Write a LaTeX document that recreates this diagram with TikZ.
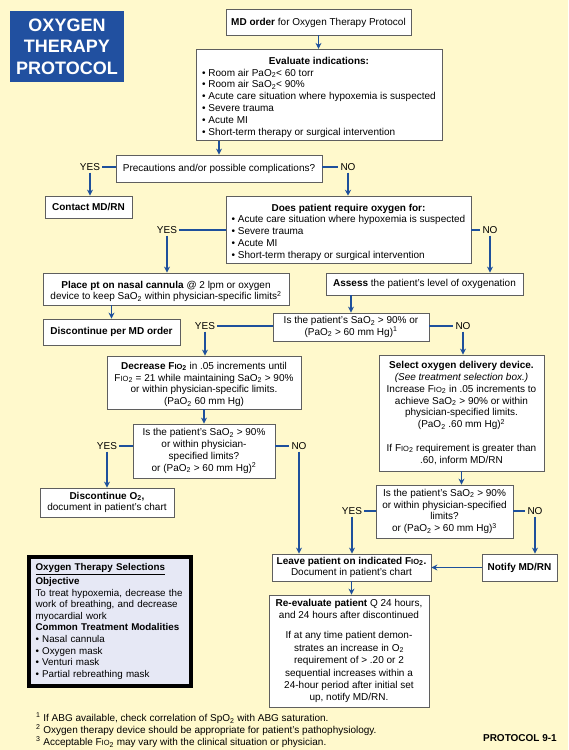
\documentclass[tikz,border=0pt]{standalone}
\usepackage{fontspec}
\setmainfont{Liberation Sans}
\usetikzlibrary{arrows.meta}
\definecolor{bg}{RGB}{255,249,204}
\definecolor{arrowblue}{RGB}{30,80,156}
\definecolor{boxgray}{RGB}{95,95,95}
\definecolor{titleblue}{RGB}{33,80,160}
\definecolor{selfill}{RGB}{230,232,245}
\newcommand\stwo{\textsubscript{2}}
\newcommand\fio{F{\fontsize{7.5}{8}\selectfont IO}\stwo}
\newcommand\bul{\textbullet\ }
\newcommand\topstrut[1]{\rule{0pt}{#1}}
\begin{document}
\begin{tikzpicture}[x=1pt,y=-1pt,
  box/.style={draw=boxgray, fill=white, line width=0.8pt, inner sep=2pt, align=center, font=\fontsize{10}{11.8}\selectfont},
  lbl/.style={inner sep=2pt, font=\fontsize{10}{11.8}\selectfont},
  arr/.style={draw=arrowblue, line width=1.1pt, -{Stealth[length=6pt,width=6pt]}},
  ln/.style={draw=arrowblue, line width=1.1pt}]
\fill[bg] (0,0) rectangle (568,750);
\useasboundingbox (0,0) rectangle (568,750);

\node[fill=titleblue, minimum width=114pt, minimum height=71pt, align=center, text=white, font=\fontsize{18}{21.5}\selectfont\bfseries] (title) at (67,46.5) {OXYGEN\\THERAPY\\PROTOCOL};

\node[box, minimum width=185pt, minimum height=26pt] (mdorder) at (318.5,22) {\topstrut{9pt}\textbf{MD order} for Oxygen Therapy Protocol};

\node[box, minimum width=246pt, minimum height=90pt] (evaluate) at (319,95) {\topstrut{13pt}\textbf{Evaluate indications:}\\
\begin{tabular}[t]{@{}l@{}}
\bul Room air PaO\stwo< 60 torr\\
\bul Room air SaO\stwo< 90\%\\
\bul Acute care situation where hypoxemia is suspected\\
\bul Severe trauma\\
\bul Acute MI\\
\bul Short-term therapy or surgical intervention
\end{tabular}};

\node[box, minimum width=206pt, minimum height=27pt] (precautions) at (219,168.5) {Precautions and/or possible complications?};
\node[lbl] (yes1) at (90,167) {YES};
\node[lbl] (no1) at (348,167) {NO};
\node[box, minimum width=87pt, minimum height=22pt] (contact) at (88.5,207) {\textbf{Contact MD/RN}};

\node[box, minimum width=245pt, minimum height=66pt] (does) at (348.5,230) {\topstrut{13pt}\textbf{Does patient require oxygen for:}\\
\begin{tabular}[t]{@{}l@{}}
\bul Acute care situation where hypoxemia is suspected\\
\bul Severe trauma\\
\bul Acute MI\\
\bul Short-term therapy or surgical intervention
\end{tabular}};
\node[lbl] (yes2) at (167,230) {YES};
\node[lbl] (no2) at (490,230) {NO};

\node[box, minimum width=246pt, minimum height=32pt] (placept) at (166,289) {\topstrut{12pt}\textbf{Place pt on nasal cannula} @ 2 lpm or oxygen\\ device to keep SaO\stwo{} within physician-specific limits\textsuperscript{2}};
\node[box, minimum width=197pt, minimum height=22pt] (assess) at (424.5,284) {\textbf{Assess} the patient's level of oxygenation};
\node[box, minimum width=137pt, minimum height=26pt] (disc1) at (111.5,332) {\textbf{Discontinue per MD order}};

\node[box, minimum width=156pt, minimum height=28pt] (is1) at (351,327) {Is the patient's SaO\stwo{} > 90\% or\\ (PaO\stwo{} > 60 mm Hg)\textsuperscript{1}};
\node[lbl] (yes3) at (205,326) {YES};
\node[lbl] (no3) at (463,326) {NO};

\node[box, minimum width=194pt, minimum height=53pt] (decrease) at (204,382.5) {\topstrut{11pt}\textbf{Decrease \fio} in .05 increments until\\ \fio{} = 21 while maintaining SaO\stwo{} > 90\%\\ or within physician-specific limits.\\ (PaO\stwo{} 60 mm Hg)};

\node[box, minimum width=142pt, minimum height=54pt] (is2) at (204,451) {Is the patient's SaO\stwo{} > 90\%\\ or within physician-\\ specified limits?\\ or (PaO\stwo{} > 60 mm Hg)\textsuperscript{2}};
\node[lbl] (yes4) at (107,446) {YES};
\node[lbl] (no4) at (299,446) {NO};
\node[box, minimum width=134pt, minimum height=29pt] (disc2) at (107,502.5) {\textbf{Discontinue O\stwo,}\\ document in patient's chart};

\node[box, minimum width=165pt, minimum height=116pt] (select) at (461.5,413) {\textbf{Select oxygen delivery device.}\\ \textit{(See treatment selection box.)}\\ Increase \fio{} in .05 increments to\\ achieve SaO\stwo{} > 90\% or within\\ physician-specified limits.\\ (PaO\stwo{} .60 mm Hg)\textsuperscript{2}\\[12pt] If \fio{} requirement is greater than\\ .60, inform MD/RN};

\node[box, minimum width=137pt, minimum height=53pt] (is3) at (444.5,511.5) {Is the patient's SaO\stwo{} > 90\%\\ or within physician-specified\\ limits?\\ or (PaO\stwo{} > 60 mm Hg)\textsuperscript{3}};
\node[lbl] (yes5) at (352,511) {YES};
\node[lbl] (no5) at (535,511) {NO};

\node[box, minimum width=159pt, minimum height=27pt] (leave) at (351.5,567.5) {\textbf{Leave patient on indicated \fio.}\\ Document in patient's chart};
\node[box, minimum width=75pt, minimum height=27pt] (notify) at (519.5,567.5) {\textbf{Notify MD/RN}};

\node[box, minimum width=160pt, minimum height=112pt, font=\fontsize{10}{12.4}\selectfont] (reeval) at (349,651) {\textbf{Re-evaluate patient} Q 24 hours,\\ and 24 hours after discontinued\\[8pt] If at any time patient demon-\\ strates an increase in O\stwo\\ requirement of > .20 or 2\\ sequential increases within a\\ 24-hour period after initial set\\ up, notify MD/RN.};

\node[draw=black, line width=4pt, fill=selfill, minimum width=162pt, minimum height=129pt, text width=149pt, align=left, inner sep=0pt, font=\fontsize{9.8}{11.6}\selectfont] (sel) at (110,621.5) {\textbf{\underline{Oxygen Therapy Selections}}\\[2pt]
\textbf{Objective}\\
To treat hypoxemia, decrease the\\
work of breathing, and decrease\\
myocardial work\\
\textbf{Common Treatment Modalities}\\
\bul Nasal cannula\\
\bul Oxygen mask\\
\bul Venturi mask\\
\bul Partial rebreathing mask};

\node[anchor=base west, inner sep=0pt, font=\fontsize{10}{11}\selectfont] (foot1) at (36,721.5) {\textsuperscript{1} If ABG available, check correlation of SpO\stwo{} with ABG saturation.};
\node[anchor=base west, inner sep=0pt, font=\fontsize{10}{11}\selectfont] (foot2) at (36,733.5) {\textsuperscript{2} Oxygen therapy device should be appropriate for patient's pathophysiology.};
\node[anchor=base west, inner sep=0pt, font=\fontsize{10}{11}\selectfont] (foot3) at (36,745.5) {\textsuperscript{3} Acceptable \fio{} may vary with the clinical situation or physician.};
\node[anchor=base east, inner sep=0pt, font=\fontsize{10}{11}\selectfont\bfseries] (protocol) at (557,741.5) {PROTOCOL 9-1};

% connectors
\draw[arr] (mdorder.south) -- (mdorder.south |- evaluate.north);
\draw[arr] (precautions.north |- evaluate.south) -- (precautions.north);
\draw[ln] (yes1.east) -- (yes1.east -| precautions.west);
\draw[arr] (yes1.south) -- (yes1.south |- contact.north);
\draw[ln] (no1.west -| precautions.east) -- (no1.west);
\draw[arr] (no1.south) -- (no1.south |- does.north);
\draw[ln] (yes2.east) -- (yes2.east -| does.west);
\draw[arr] (yes2.south) -- (yes2.south |- placept.north);
\draw[ln] (no2.west -| does.east) -- (no2.west);
\draw[arr] (no2.south) -- (no2.south |- assess.north);
\draw[arr] (disc1.north |- placept.south) -- (disc1.north);
\draw[arr] (is1.north |- assess.south) -- (is1.north);
\draw[ln] (yes3.east) -- (yes3.east -| is1.west);
\draw[arr] (yes3.south) -- (yes3.south |- decrease.north);
\draw[ln] (no3.west -| is1.east) -- (no3.west);
\draw[arr] (no3.south) -- (no3.south |- select.north);
\draw[arr] (decrease.south) -- (decrease.south |- is2.north);
\draw[ln] (yes4.east) -- (yes4.east -| is2.west);
\draw[arr] (yes4.south) -- (yes4.south |- disc2.north);
\draw[ln] (no4.west -| is2.east) -- (no4.west);
\draw[arr] (no4.south) -- (no4.south |- leave.north);
\draw[arr] (select.south) -- (select.south |- is3.north);
\draw[ln] (yes5.east) -- (yes5.east -| is3.west);
\draw[arr] (yes5.south) -- (yes5.south |- leave.north);
\draw[ln] (no5.west -| is3.east) -- (no5.west);
\draw[arr] (no5.south) -- (no5.south |- notify.north);
\draw[arr] (notify.west) -- (leave.east);
\draw[arr] (leave.south) -- (leave.south |- reeval.north);
\end{tikzpicture}
\end{document}
